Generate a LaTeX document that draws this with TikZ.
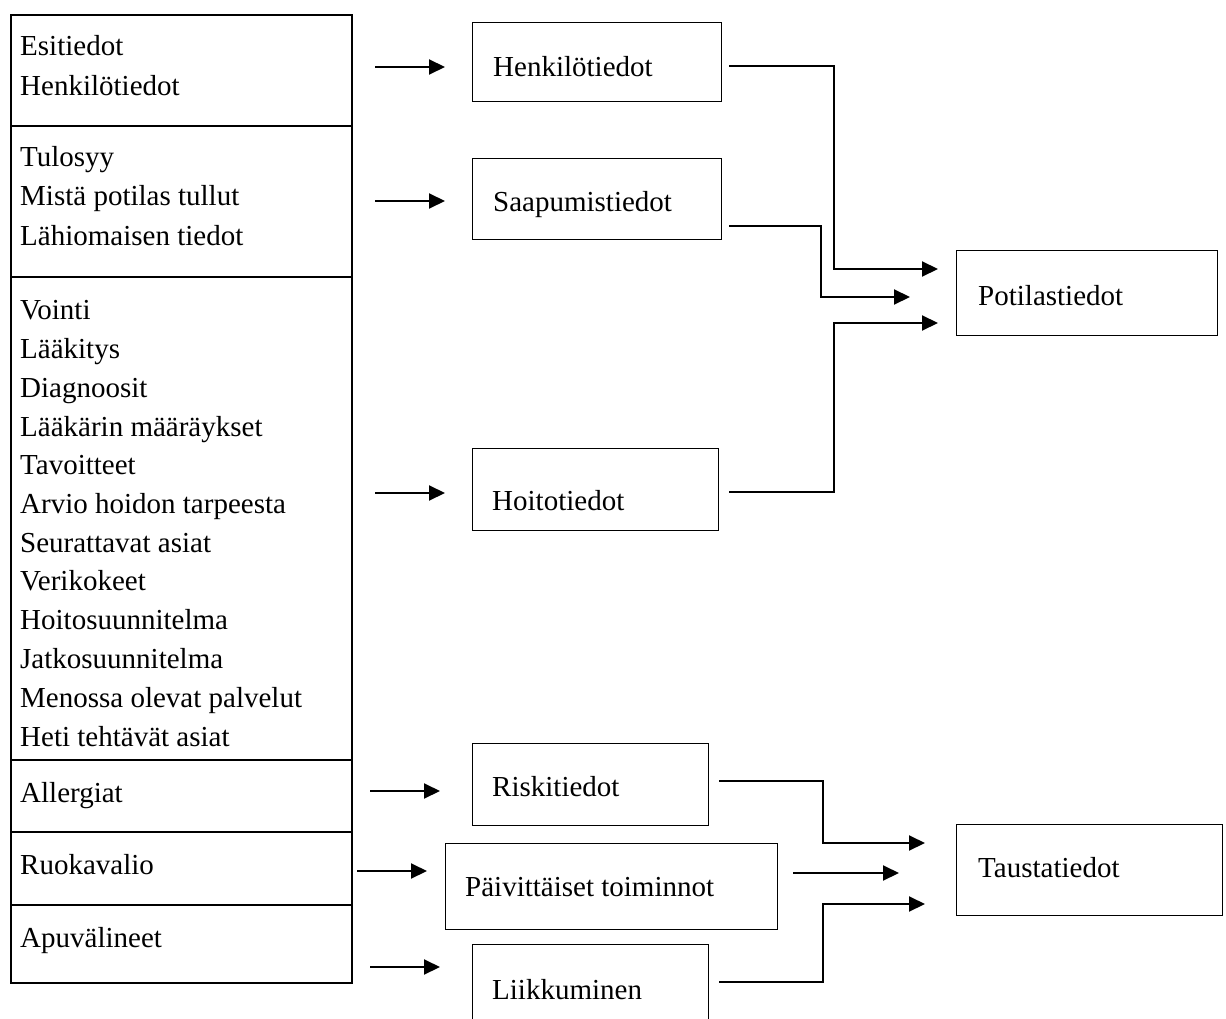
\documentclass[tikz,border=0pt]{standalone}
\usepackage{fontspec}
\setmainfont{Liberation Serif}
\usetikzlibrary{arrows.meta}

\begin{document}
\begin{tikzpicture}[
  x=1pt, y=-1pt,
  font=\fontsize{29}{35}\selectfont,
  colbox/.style={draw, line width=2.2pt, inner sep=0pt, minimum width=341pt, anchor=north west},
  infobox/.style={draw, line width=1.4pt, inner sep=0pt, anchor=north west},
  txt/.style={anchor=base west, inner sep=0pt},
  link/.style={line width=2pt, line join=miter, -{Triangle[length=16pt, width=15pt]}}
]
\clip (0,0) rectangle (1226,1019);
\fill[white] (0,0) rectangle (1226,1019);

% ---- left column: grouped source items ----
\node[colbox, minimum height=111pt] (s1) at (10,14) {};
\node[colbox, minimum height=151pt] (s2) at (10,125) {};
\node[colbox, minimum height=483pt] (s3) at (10,276) {};
\node[colbox, minimum height=72pt]  (s4) at (10,759) {};
\node[colbox, minimum height=73pt]  (s5) at (10,831) {};
\node[colbox, minimum height=78pt]  (s6) at (10,904) {};

\node[txt] (t11) at (20,56)  {Esitiedot};
\node[txt] (t12) at (20,96)  {Henkilötiedot};
\node[txt] (t21) at (20,167) {Tulosyy};
\node[txt] (t22) at (20,206) {Mistä potilas tullut};
\node[txt] (t23) at (20,245) {Lähiomaisen tiedot};
\node[txt] (t31) at (20,319) {Vointi};
\node[txt] (t32) at (20,358) {Lääkitys};
\node[txt] (t33) at (20,397) {Diagnoosit};
\node[txt] (t34) at (20,436) {Lääkärin määräykset};
\node[txt] (t35) at (20,474) {Tavoitteet};
\node[txt] (t36) at (20,513) {Arvio hoidon tarpeesta};
\node[txt] (t37) at (20,552) {Seurattavat asiat};
\node[txt] (t38) at (20,590) {Verikokeet};
\node[txt] (t39) at (20,629) {Hoitosuunnitelma};
\node[txt] (t310) at (20,668) {Jatkosuunnitelma};
\node[txt] (t311) at (20,707) {Menossa olevat palvelut};
\node[txt] (t312) at (20,746) {Heti tehtävät asiat};
\node[txt] (t41) at (20,802) {Allergiat};
\node[txt] (t51) at (20,874) {Ruokavalio};
\node[txt] (t61) at (20,947) {Apuvälineet};

% ---- middle column: categories ----
\node[infobox, minimum width=249pt, minimum height=79pt] (hen) at (472,22) {};
\node[infobox, minimum width=249pt, minimum height=81pt] (saa) at (472,158) {};
\node[infobox, minimum width=246pt, minimum height=82pt] (hoi) at (472,448) {};
\node[infobox, minimum width=236pt, minimum height=82pt] (ris) at (472,743) {};
\node[infobox, minimum width=332pt, minimum height=86pt] (pai) at (445,843) {};
\node[infobox, minimum width=236pt, minimum height=100pt] (lii) at (472,944) {};

\node[txt] at (493,77)  {Henkilötiedot};
\node[txt] at (493,212) {Saapumistiedot};
\node[txt] at (492,510) {Hoitotiedot};
\node[txt] at (492,796) {Riskitiedot};
\node[txt] at (465,896) {Päivittäiset toiminnot};
\node[txt] at (492,999) {Liikkuminen};

% ---- right column: summaries ----
\node[infobox, minimum width=261pt, minimum height=85pt] (pot) at (956,250) {};
\node[infobox, minimum width=266pt, minimum height=91pt] (tau) at (956,824) {};
\node[txt] at (978,305) {Potilastiedot};
\node[txt] at (978,877) {Taustatiedot};

% ---- free ends of the short input arrows ----
\coordinate (in1) at (375,67);   \coordinate (to1) at (445,67);
\coordinate (in2) at (375,201);  \coordinate (to2) at (445,201);
\coordinate (in3) at (375,493);  \coordinate (to3) at (445,493);
\coordinate (in4) at (370,791);  \coordinate (to4) at (440,791);
\coordinate (in5) at (357,871);  \coordinate (to5) at (427,871);
\coordinate (in6) at (370,967);  \coordinate (to6) at (440,967);

\draw[link] (in1) -- (to1);
\draw[link] (in2) -- (to2);
\draw[link] (in3) -- (to3);
\draw[link] (in4) -- (to4);
\draw[link] (in5) -- (to5);
\draw[link] (in6) -- (to6);

% ---- elbow connectors into the summaries ----
\coordinate (o1) at (729,66);   \coordinate (e1) at (938,269);
\coordinate (o2) at (729,226);  \coordinate (e2) at (910,297);
\coordinate (o3) at (729,492);  \coordinate (e3) at (938,323);
\coordinate (o4) at (719,781);  \coordinate (e4) at (925,843);
\coordinate (o5) at (793,873);  \coordinate (e5) at (899,873);
\coordinate (o6) at (719,982);  \coordinate (e6) at (925,904);

\draw[link] (o1) -- (834,66) -- (834,269) -- (e1);
\draw[link] (o2) -- (821,226) -- (821,297) -- (e2);
\draw[link] (o3) -- (834,492) -- (834,323) -- (e3);
\draw[link] (o4) -- (823,781) -- (823,843) -- (e4);
\draw[link] (o5) -- (e5);
\draw[link] (o6) -- (823,982) -- (823,904) -- (e6);
\end{tikzpicture}
\end{document}
